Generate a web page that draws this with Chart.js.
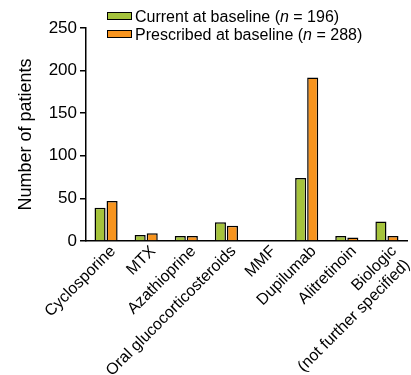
<!DOCTYPE html>
<html>
<head>
<meta charset="utf-8">
<script src="https://cdn.jsdelivr.net/npm/chart.js@4/dist/chart.umd.min.js"></script>
<style>
  html, body { margin: 0; padding: 0; background: #fff; }
  #wrap { position: relative; width: 411px; height: 375px; }
  #legend { position: absolute; left: 107px; top: 8px; font-family: "Liberation Sans", Arial, sans-serif; font-size: 16px; color: #000; }
  #legend div { height: 18px; line-height: 18px; white-space: nowrap; }
  #legend span.box { display: inline-block; width: 23px; height: 6px; border: 1.5px solid #000; margin-right: 3px; vertical-align: 2px; }
</style>
</head>
<body>
<div id="wrap">
  <canvas id="chart" width="411" height="375"></canvas>
  <div id="legend">
    <div><span class="box" style="background:#a5c33c"></span>Current at baseline (<i>n</i> = 196)</div>
    <div><span class="box" style="background:#f7941e"></span>Prescribed at baseline (<i>n</i> = 288)</div>
  </div>
</div>
<script>
var categories = ['Cyclosporine', 'MTX', 'Azathioprine', 'Oral glucocorticosteroids', 'MMF', 'Dupilumab', 'Alitretinoin', ['Biologic', '(not further specified)']];
var currentValues = [39, 7, 6, 22, 1, 74, 6, 23];
var prescribedValues = [47, 9, 6, 18, 0, 192, 4, 6];
var yTicks = [0, 50, 100, 150, 200, 250];

document.addEventListener('DOMContentLoaded', function() {
    var ctx = document.getElementById('chart').getContext('2d');
    var font = "'Liberation Sans', Arial, sans-serif";
    // the MMF bar in the reference is only a thin blue line on the axis
    var currentBorders = currentValues.map(function(v, i) { return i === 4 ? '#2b4f8e' : '#000'; });
    new Chart(ctx, {
        type: 'bar',
        data: {
            labels: categories,
            datasets: [{
                label: 'Current at baseline (n = 196)',
                data: currentValues,
                backgroundColor: '#a5c33c',
                borderColor: currentBorders,
                borderWidth: 1.5,
                barPercentage: 0.92,
                categoryPercentage: 0.6
            }, {
                label: 'Prescribed at baseline (n = 288)',
                data: prescribedValues,
                backgroundColor: '#f7941e',
                borderColor: '#000',
                borderWidth: 1.5,
                barPercentage: 0.92,
                categoryPercentage: 0.6
            }]
        },
        options: {
            responsive: false,
            animation: false,
            layout: { padding: { top: 28, right: 4, left: 4, bottom: 0 } },
            plugins: {
                legend: { display: false },
                tooltip: { enabled: false }
            },
            scales: {
                x: {
                    grid: { display: false },
                    border: { color: '#000', width: 1.5 },
                    afterFit: function(axis) { axis.height = 134; },
                    ticks: {
                        autoSkip: false,
                        maxRotation: 45,
                        minRotation: 45,
                        color: '#000',
                        font: { family: font, size: 16 },
                        padding: -7,
                        labelOffset: 7
                    }
                },
                y: {
                    min: 0,
                    max: 250,
                    afterBuildTicks: function(axis) {
                        axis.ticks = yTicks.map(function(v) { return { value: v }; });
                    },
                    afterFit: function(axis) { axis.width = 82; },
                    grid: { drawOnChartArea: false, color: '#000', tickLength: 6, lineWidth: 1.5 },
                    border: { color: '#000', width: 1.5 },
                    ticks: {
                        color: '#000',
                        font: { family: font, size: 17 },
                        padding: 3
                    },
                    title: {
                        display: true,
                        text: 'Number of patients',
                        color: '#000',
                        font: { family: font, size: 18 },
                        padding: { top: 11, bottom: 0 }
                    }
                }
            }
        }
    });
});
</script>
</body>
</html>
